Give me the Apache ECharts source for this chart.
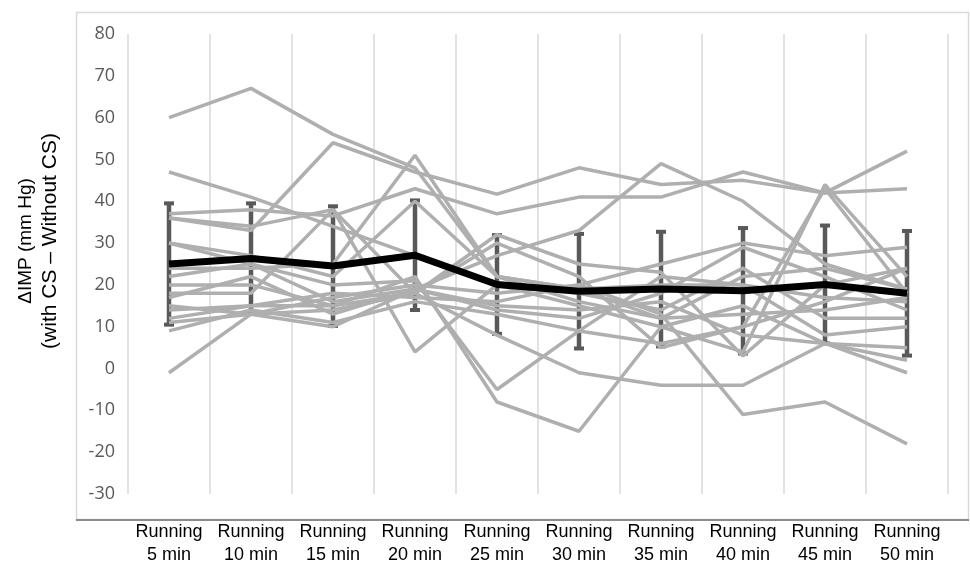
<!DOCTYPE html>
<html>
<head>
<meta charset="utf-8">
<title>ΔIMP during running</title>
<script src="https://cdn.jsdelivr.net/npm/echarts@6/dist/echarts.min.js"></script>
<style>
  html, body { margin: 0; padding: 0; background: #fff; }
  #chart { width: 970px; height: 567px; }
</style>
</head>
<body>
<div id="chart"></div>
<script>
// Time points of the running protocol
const categories = [
  'Running\n5 min', 'Running\n10 min', 'Running\n15 min', 'Running\n20 min', 'Running\n25 min',
  'Running\n30 min', 'Running\n35 min', 'Running\n40 min', 'Running\n45 min', 'Running\n50 min'
];

// Y axis range (mm Hg)
const yMin = -30;
const yMax = 80;
const yStep = 10;

// Group mean and standard deviation at each time point
const meanValues = [25.0, 26.3, 24.5, 27.1, 20.1, 18.5, 19.0, 18.6, 20.1, 18.0];
const sdValues   = [14.5, 13.2, 14.3, 13.1, 11.8, 13.7, 13.7, 15.0, 14.1, 14.9];

// Individual participants (ΔIMP, with CS minus without CS)
const subj01 = [60, 67, 56, 48, 22, 16, 12, 13, 14, 17];
const subj02 = [47, 41, 34, 27, 20, 15, 10, 15, 6, 5];
const subj03 = [36, 33, 54, 47, 41.7, 48, 44, 45, 42, 43];
const subj04 = [37, 38, 36.5, 43, 37, 41, 41, 47, 42, 52];
const subj05 = [24, 24, 25, 51, 22, 19, 12, 22, 24, 19];
const subj06 = [30, 25, 16, 19, 27, 33, 49, 40, 25, 19];
const subj07 = [-1, 13, 17, 20, 18, 20, 25, 30, 27, 29];
const subj08 = [9, 14, 11, 16, 13, 9, 6, 10, 16, 24];
const subj09 = [18, 18, 38, 4, 20, 18, 14, 24, 12, 12];
const subj10 = [22, 25, 20, 21, -5, 9, 22, 20, 17, 16];
const subj11 = [20, 20, 15, 22, -8, -15, 10, 4, 44, 22];
const subj12 = [15, 13, 14, 18, 8, -1, -4, -4, 6, -1];
const subj13 = [12, 15, 18, 17, 16, 20, 13, -11, -8, -18];
const subj14 = [14, 15, 15, 18, 30, 22, 5, 10, 43, 18];
const subj15 = [11, 13, 10, 19, 14, 12, 18, 29, 22, 14];
const subj16 = [17, 22, 13, 19, 15, 14, 16, 8, 6, 2];
const subj17 = [30, 27, 22, 40, 22, 19, 20, 20, 8, 10];
const subj18 = [36, 34, 38, 18, 32, 25, 23, 3, 20, 24];

const subjects = [subj01, subj02, subj03, subj04, subj05, subj06, subj07, subj08, subj09,
                  subj10, subj11, subj12, subj13, subj14, subj15, subj16, subj17, subj18];

const chart = echarts.init(document.getElementById('chart'), null, { renderer: 'canvas' });

// mean ± SD whiskers
const errorData = meanValues.map((m, i) => [i, m - sdValues[i], m + sdValues[i]]);

const errorSeries = {
  type: 'custom',
  name: 'SD',
  z: 2,
  silent: true,
  data: errorData,
  encode: { x: 0, y: [1, 2] },
  renderItem: function (params, api) {
    const idx = api.value(0);
    const lo = api.coord([idx, api.value(1)]);
    const hi = api.coord([idx, api.value(2)]);
    const capW = 10, capH = 4;
    const style = { fill: '#595959' };
    return {
      type: 'group',
      children: [
        { type: 'line', shape: { x1: lo[0], y1: lo[1], x2: hi[0], y2: hi[1] },
          style: { stroke: '#595959', lineWidth: 4.5 } },
        { type: 'rect', shape: { x: hi[0] - capW / 2, y: hi[1] - capH / 2, width: capW, height: capH }, style: style },
        { type: 'rect', shape: { x: lo[0] - capW / 2, y: lo[1] - capH / 2, width: capW, height: capH }, style: style }
      ]
    };
  }
};

const subjectSeries = subjects.map((vals, k) => ({
  type: 'line',
  name: 'S' + (k + 1),
  data: vals,
  z: 3,
  symbol: 'none',
  silent: true,
  lineStyle: { color: '#afafaf', width: 3.5 }
}));

const meanSeries = {
  type: 'line',
  name: 'Mean',
  data: meanValues,
  z: 4,
  symbol: 'none',
  silent: true,
  lineStyle: { color: '#000000', width: 7 }
};

chart.setOption({
  animation: false,
  backgroundColor: '#ffffff',
  grid: { left: 128, right: 22, top: 34, bottom: 70, containLabel: false },
  xAxis: {
    type: 'category',
    data: categories,
    boundaryGap: true,
    axisLine: { show: false },
    axisTick: { show: false },
    splitLine: { show: true, lineStyle: { color: '#d9d9d9', width: 1.5 } },
    axisLabel: {
      interval: 0,
      margin: 27,
      color: '#000000',
      fontFamily: 'Liberation Sans, Arial, sans-serif',
      fontSize: 18,
      lineHeight: 23,
      align: 'center'
    }
  },
  yAxis: {
    type: 'value',
    min: yMin,
    max: yMax,
    interval: yStep,
    axisLine: { show: false },
    axisTick: { show: false },
    splitLine: { show: false },
    axisLabel: {
      margin: 13,
      color: '#595959',
      fontFamily: 'Open Sans, sans-serif',
      fontSize: 18
    }
  },
  graphic: [
    {
      type: 'rect',
      silent: true,
      z: -1,
      shape: { x: 76.5, y: 12.5, width: 892, height: 507 },
      style: { fill: null, stroke: '#d9d9d9', lineWidth: 1.5 }
    },
    {
      type: 'line',
      silent: true,
      shape: { x1: 76, y1: 520, x2: 969, y2: 520 },
      style: { stroke: '#8c8c8c', lineWidth: 2 }
    },
    {
      type: 'text',
      silent: true,
      x: 38,
      y: 241,
      rotation: Math.PI / 2,
      style: {
        text: '{a|ΔIMP (mm Hg)}\n{b|(with CS – Without CS)}',
        fill: '#000000',
        align: 'center',
        verticalAlign: 'middle',
        rich: {
          a: { font: '19px "Liberation Sans", Arial, sans-serif', lineHeight: 24, fill: '#000000' },
          b: { font: '21px "Liberation Sans", Arial, sans-serif', lineHeight: 24, fill: '#000000' }
        }
      }
    }
  ],
  series: [errorSeries].concat(subjectSeries, [meanSeries])
});
</script>
</body>
</html>
